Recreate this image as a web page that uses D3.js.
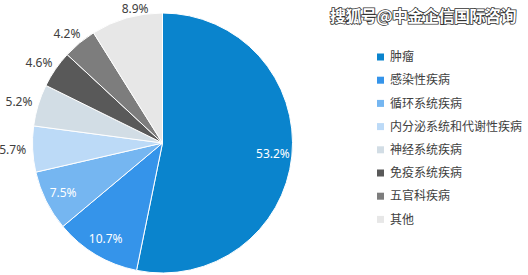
<!DOCTYPE html>
<html>
<head>
<meta charset="utf-8">
<script src="https://cdn.jsdelivr.net/npm/d3@7"></script>
<style>
  body { margin: 0; background: #fff; }
  svg { display: block; font-family: "Noto Sans", "Noto Sans CJK SC", sans-serif; }
</style>
</head>
<body>
<div id="chart"></div>
<script>
const categories = ["肿瘤", "感染性疾病", "循环系统疾病", "内分泌系统和代谢性疾病", "神经系统疾病", "免疫系统疾病", "五官科疾病", "其他"];
const values = [53.2, 10.7, 7.5, 5.7, 5.2, 4.6, 4.2, 8.9];
const colors = ["#0a84cd", "#3594ea", "#75b6f1", "#bcdaf7", "#d2dde5", "#595959", "#7d7d7d", "#e7e7e7"];
const insideLabel = [true, true, true, false, false, false, false, false];
const title = "搜狐号@中金企信国际咨询";

const width = 528, height = 275;
const cx = 162.5, cy = 143, radius = 130;

const svg = d3.select("#chart").append("svg")
  .attr("width", width).attr("height", height);

const data = categories.map((name, i) => ({ name, value: values[i], color: colors[i], inside: insideLabel[i] }));

const pie = d3.pie().value((d) => d.value).sort(null);
const arc = d3.arc().innerRadius(0).outerRadius(radius);
const arcs = pie(data);

const g = svg.append("g").attr("transform", `translate(${cx},${cy})`);

g.selectAll("path")
  .data(arcs)
  .join("path")
  .attr("d", arc)
  .attr("fill", (d) => d.data.color)
  .attr("stroke", "#fff")
  .attr("stroke-width", 1);

// labels: inside ones in white, the rest just outside the rim
const labelW = 28, labelH = 12;
g.selectAll("text.lbl")
  .data(arcs)
  .join("text")
  .attr("class", "lbl")
  .attr("text-anchor", "middle")
  .attr("dy", "0.35em")
  .attr("font-size", 12)
  .attr("fill", (d) => (d.data.inside ? "#fff" : "#404040"))
  .attr("transform", (d) => {
    const a = (d.startAngle + d.endAngle) / 2;
    const ux = Math.sin(a), uy = -Math.cos(a);
    let x, y;
    if (d.data.inside) {
      x = ux * 111; y = uy * 111;
    } else {
      x = ux * (radius + 6) + ux * labelW / 2;
      y = uy * (radius + 6) + uy * labelH / 2;
      // keep it inside the top edge, pushing it toward the rim
      const minY = -cy + 9;
      if (y < minY) {
        y = minY;
        x += labelW / 2;
      }
    }
    return `translate(${x},${y})`;
  })
  .text((d) => d3.format(".1f")(d.data.value) + "%");

// legend
const legend = svg.append("g").attr("transform", "translate(377,57)");
const item = legend.selectAll("g")
  .data(data)
  .join("g")
  .attr("transform", (d, i) => `translate(0,${i * 23.2})`);
item.append("rect")
  .attr("x", 0).attr("y", -3.5)
  .attr("width", 7).attr("height", 7)
  .attr("fill", (d) => d.color);
item.append("text")
  .attr("x", 13).attr("dy", "0.35em")
  .attr("font-size", 12)
  .attr("font-family", "'Noto Sans CJK SC', sans-serif")
  .attr("fill", "#404040")
  .text((d) => d.name);

// watermark title
svg.append("text")
  .attr("x", 423).attr("y", 16)
  .attr("text-anchor", "middle")
  .attr("dy", "0.35em")
  .attr("font-size", 16)
  .attr("font-weight", "bold")
  .attr("font-family", "'Noto Sans CJK SC', sans-serif")
  .attr("fill", "#fff")
  .attr("stroke", "#333")
  .attr("stroke-width", 1.6)
  .attr("paint-order", "stroke")
  .attr("letter-spacing", -0.5)
  .text(title);
</script>
</body>
</html>
